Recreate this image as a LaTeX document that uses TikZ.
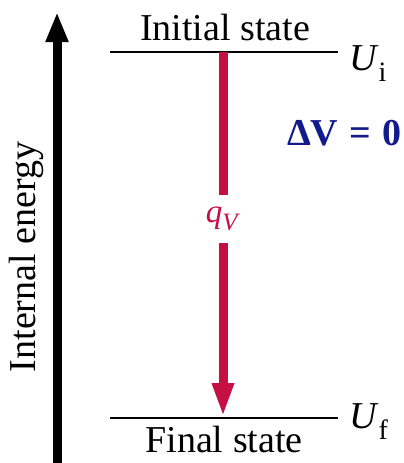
\documentclass[tikz,border=0pt]{standalone}
\usepackage{fontspec}
\setmainfont{Liberation Serif}
\usetikzlibrary{arrows.meta}
\definecolor{crim}{RGB}{198,16,68}
\definecolor{navy}{RGB}{18,26,140}
\tikzset{
  level/.style={line width=1.6pt, black},
  lbl/.style={inner sep=0pt, font=\fontsize{38}{42}\selectfont},
  bigarrow/.style={line width=9pt, -{Triangle[width=21pt,length=30pt]}},
  qarrow/.style={crim, line width=9pt},
}
\newcommand{\subtxt}[1]{\raisebox{-0.3em}{\fontsize{28}{30}\selectfont #1}}
\begin{document}
\begin{tikzpicture}[x=1pt,y=-1pt]
\useasboundingbox (0,0) rectangle (404,463);
% energy axis
\coordinate (axB) at (57,463);
\coordinate (axT) at (57,12);
\draw[bigarrow] (axB) -- (axT);
\node[lbl, rotate=90, anchor=base] (ie) at (35,257) {Internal energy};
% levels
\coordinate (iL) at (110,52);
\coordinate (iR) at (338,52);
\coordinate (fL) at (110,418);
\coordinate (fR) at (338,418);
\draw[level] (iL) -- (iR);
\draw[level] (fL) -- (fR);
\node[lbl, anchor=base] (ist) at (225,40) {Initial state};
\node[lbl, anchor=base] (fst) at (224,452) {Final state};
\node[lbl, anchor=base west] (ui) at (349,70) {\textit{U}\subtxt{i}};
\node[lbl, anchor=base west] (uf) at (349,428) {\textit{U}\subtxt{f}};
% heat arrow
\coordinate (qT) at (223,52);
\coordinate (qB) at (223,417);
\node[inner sep=0pt, minimum height=48pt, text=crim,
      font=\fontsize{33}{36}\selectfont] (qv) at (223,219)
      {\textit{q}\raisebox{-0.25em}{\fontsize{25}{27}\selectfont\textit{V}}};
\draw[qarrow] (qT) -- (qv.north);
\draw[qarrow, -{Triangle[width=20pt,length=34pt]}] (qv.south) -- (qB);
% delta V
\node[inner sep=0pt, anchor=base east, text=navy,
      font=\fontsize{38}{42}\selectfont\bfseries] (dv) at (402,145)
      {ΔV\hspace{0.3em}=\hspace{0.3em}0};
\end{tikzpicture}
\end{document}
